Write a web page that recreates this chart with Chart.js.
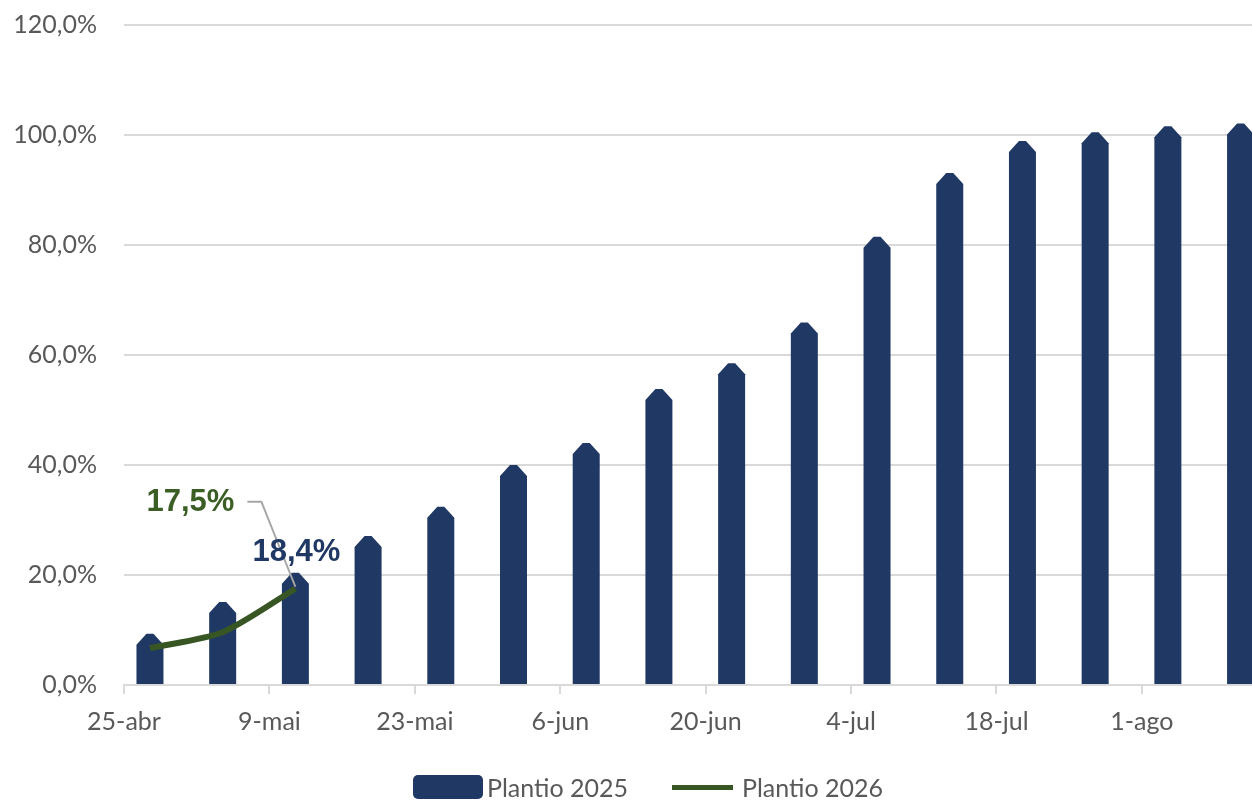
<!DOCTYPE html>
<html>
<head>
<meta charset="utf-8">
<script src="https://cdn.jsdelivr.net/npm/chart.js@4/dist/chart.umd.min.js"></script>
<style>
  html, body { margin: 0; padding: 0; background: #ffffff; }
  #wrap { position: relative; width: 1252px; height: 801px; overflow: hidden; }
  #c { position: absolute; left: 0; top: 0; }
  .lg { position: absolute; font-family: Lato, "Open Sans", sans-serif; font-size: 25px; color: #595959; line-height: 26px; white-space: nowrap; }
  .sw-bar { position: absolute; left: 413px; top: 775px; width: 70px; height: 24px; background: #203864; border-radius: 5px; }
  .sw-line { position: absolute; left: 672px; top: 785px; width: 61px; height: 5px; background: #375623; }
</style>
</head>
<body>
<div id="wrap">
  <canvas id="c" width="1252" height="801"></canvas>
  <div class="sw-bar"></div><div class="lg" style="left:487px;top:774px;">Plantio 2025</div>
  <div class="sw-line"></div><div class="lg" style="left:742px;top:774px;">Plantio 2026</div>
</div>
<script>
// ---- data ----
const categories = ['27-abr','4-mai','11-mai','18-mai','25-mai','1-jun','8-jun','15-jun','22-jun','29-jun','6-jul','13-jul','20-jul','27-jul','3-ago','10-ago'];
const categoryDays = [2, 9, 16, 23, 30, 37, 44, 51, 58, 65, 72, 79, 86, 93, 100, 107]; // days after 25-abr
const plantio2025 = [7.3, 13.1, 18.4, 25.1, 30.4, 38.0, 42.0, 51.8, 56.5, 63.9, 79.5, 91.1, 96.9, 98.5, 99.6, 100.1];
const plantio2026 = [6.7, 9.6, 17.5];
const tickLabels = ['25-abr','9-mai','23-mai','6-jun','20-jun','4-jul','18-jul','1-ago'];
const tickDays = [0, 14, 28, 42, 56, 70, 84, 98];
const yTicks = [0, 20, 40, 60, 80, 100, 120];

const NAVY = '#203864', GREEN = '#375623', GREEN_TXT = '#3b5e24', GRAY_TXT = '#595959', GRID = '#d9d9d9';
const fmtPct = v => v.toFixed(1).replace('.', ',') + '%';

const barData = plantio2025.map((v, i) => ({ x: categoryDays[i] + 0.5, y: v }));
const lineData = plantio2026.map((v, i) => ({ x: categoryDays[i] + 0.5, y: v }));

const shapedBars = {
  id: 'shapedBars',
  beforeDatasetDraw(chart, args) {
    if (args.index !== 0) return;
    const ctx = chart.ctx, a = chart.chartArea;
    ctx.save();
    ctx.beginPath();
    ctx.rect(a.left, a.top - 20, a.right - a.left, a.bottom - a.top + 20);
    ctx.clip();
    ctx.fillStyle = NAVY;
    args.meta.data.forEach(el => {
      const p = el.getProps(['x', 'y', 'base', 'width'], true);
      const l = p.x - p.width / 2, r = p.x + p.width / 2, cut = 10, peak = 11;
      ctx.beginPath();
      ctx.moveTo(l, p.base);
      ctx.lineTo(l, p.y);
      ctx.lineTo(l + cut, p.y - peak);
      ctx.lineTo(r - cut, p.y - peak);
      ctx.lineTo(r, p.y);
      ctx.lineTo(r, p.base);
      ctx.closePath();
      ctx.fill();
    });
    ctx.restore();
    return false;
  }
};

const labelsPlugin = {
  id: 'labelsPlugin',
  afterDatasetsDraw(chart) {
    const ctx = chart.ctx;
    const bars = chart.getDatasetMeta(0).data;
    const pts = chart.getDatasetMeta(1).data;
    const bi = 2, li = plantio2026.length - 1;
    const b = bars[bi], p = pts[li];
    ctx.save();
    ctx.font = 'bold 31px "Liberation Sans", Arial, sans-serif';
    ctx.textAlign = 'center';
    ctx.textBaseline = 'middle';
    ctx.strokeStyle = '#a6a6a6';
    ctx.lineWidth = 2;
    ctx.beginPath();
    ctx.moveTo(p.x - 48, p.y - 87);
    ctx.lineTo(p.x - 34, p.y - 87);
    ctx.lineTo(p.x, p.y - 2);
    ctx.stroke();
    ctx.fillStyle = NAVY;
    ctx.fillText(fmtPct(plantio2025[bi]), b.x + 1, b.y - 31);
    ctx.fillStyle = GREEN_TXT;
    ctx.fillText(fmtPct(plantio2026[li]), p.x - 105, p.y - 86);
    ctx.restore();
  }
};

function build() {
  new Chart(document.getElementById('c'), {
    data: {
      datasets: [
        { type: 'bar', label: 'Plantio 2025', data: barData, backgroundColor: NAVY, barThickness: 27, order: 1 },
        { type: 'line', label: 'Plantio 2026', data: lineData, borderColor: GREEN, borderWidth: 6, pointRadius: 0, tension: 0.25, order: 0, borderCapStyle: 'butt' }
      ]
    },
    options: {
      responsive: false,
      animation: false,
      devicePixelRatio: 1,
      layout: { padding: { top: 25, right: 0, left: 0, bottom: 0 } },
      plugins: { legend: { display: false }, tooltip: { enabled: false } },
      scales: {
        x: {
          type: 'linear',
          offset: false,
          min: 0,
          max: 108.6,
          afterBuildTicks: s => { s.ticks = tickDays.map(v => ({ value: v })); },
          afterFit: s => { s.height = 801 - 685; s.paddingLeft = 0; s.paddingRight = 0; },
          ticks: {
            autoSkip: false, maxRotation: 0, minRotation: 0, padding: 13,
            color: GRAY_TXT, font: { family: 'Lato', size: 25 },
            callback: v => { const i = tickDays.indexOf(v); return i >= 0 ? tickLabels[i] : ''; }
          },
          grid: { offset: false, drawOnChartArea: false, drawTicks: true, tickLength: 9, color: GRID, lineWidth: 2 },
          border: { display: true, color: GRID, width: 2 }
        },
        y: {
          min: 0, max: 120,
          afterBuildTicks: s => { s.ticks = yTicks.map(v => ({ value: v })); },
          afterFit: s => { s.width = 124; s.paddingTop = 0; s.paddingBottom = 0; },
          ticks: {
            padding: 27, color: GRAY_TXT, font: { family: 'Lato', size: 25 },
            callback: v => fmtPct(v)
          },
          grid: { color: GRID, lineWidth: 2, drawTicks: false },
          border: { display: false }
        }
      }
    },
    plugins: [shapedBars, labelsPlugin]
  });
}
(document.fonts && document.fonts.load ? Promise.all([document.fonts.load('25px Lato'), document.fonts.load('bold 31px "Liberation Sans"')]) : Promise.resolve()).then(build, build);
</script>
</body>
</html>
